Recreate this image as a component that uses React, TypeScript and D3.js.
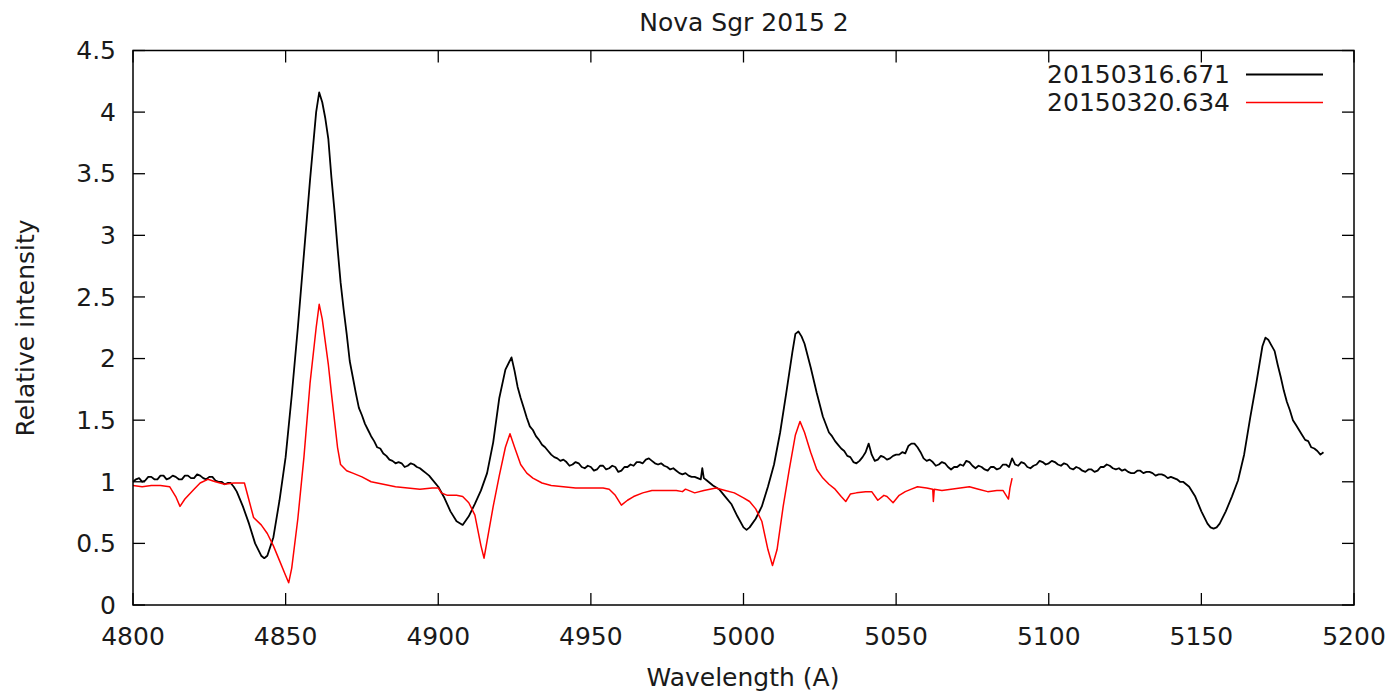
import React from "react";
import * as d3 from "d3";

const title = "Nova Sgr 2015 2";
const xLabel = "Wavelength (A)";
const yLabel = "Relative intensity";
const xTicks = [4800, 4850, 4900, 4950, 5000, 5050, 5100, 5150, 5200];
const yTicks = [0, 0.5, 1, 1.5, 2, 2.5, 3, 3.5, 4, 4.5];
const seriesNames = ["20150316.671", "20150320.634"];
const seriesColors = ["#000000", "#ff0000"];

// [wavelength, relative intensity]
const spec0316: [number, number][] = [
  [4800, 1.0], [4801, 1.02], [4802, 1.03], [4803, 1.0], [4804, 1.01], [4805, 1.04], [4806, 1.04], [4807, 1.02],
  [4808, 1.02], [4809, 1.05], [4810, 1.05], [4811, 1.02], [4812, 1.03], [4813, 1.05], [4814, 1.04], [4815, 1.02],
  [4816, 1.02], [4817, 1.05], [4818, 1.05], [4819, 1.03], [4820, 1.03], [4821, 1.06], [4822, 1.05], [4823, 1.03],
  [4824, 1.02], [4825, 1.04], [4826, 1.04], [4827, 1.01], [4828, 1.0], [4829, 1.0], [4830, 0.98], [4831, 0.99],
  [4832, 0.99], [4833, 0.96], [4834, 0.92], [4836, 0.8], [4838, 0.66], [4840, 0.5], [4842, 0.4], [4843, 0.38],
  [4844, 0.4], [4846, 0.55], [4848, 0.85], [4850, 1.2], [4852, 1.7], [4854, 2.25], [4856, 2.85], [4858, 3.45],
  [4860, 4.0], [4861, 4.16], [4862, 4.08], [4863, 3.95], [4864, 3.78], [4865, 3.47], [4866, 3.2], [4867, 2.9],
  [4868, 2.62], [4869, 2.4], [4870, 2.2], [4871, 1.98], [4872, 1.85], [4873, 1.72], [4874, 1.6], [4875, 1.54],
  [4876, 1.47], [4877, 1.42], [4878, 1.37], [4879, 1.33], [4880, 1.28], [4881, 1.27], [4882, 1.23],
  [4883, 1.21], [4884, 1.18], [4885, 1.17], [4886, 1.15], [4887, 1.16], [4888, 1.15], [4889, 1.12], [4890, 1.13],
  [4891, 1.15], [4892, 1.14], [4893, 1.12], [4894, 1.11], [4895, 1.09], [4896, 1.07], [4897, 1.05], [4898, 1.02],
  [4900, 0.96], [4902, 0.87], [4904, 0.76], [4906, 0.68], [4908, 0.65], [4910, 0.72], [4912, 0.82], [4914, 0.93],
  [4916, 1.07], [4918, 1.32], [4920, 1.68], [4922, 1.91], [4924, 2.01], [4925, 1.9], [4926, 1.77], [4927, 1.68],
  [4928, 1.6], [4929, 1.52], [4930, 1.45],
  [4931, 1.42], [4932, 1.37], [4933, 1.34], [4934, 1.3], [4935, 1.28], [4936, 1.25], [4937, 1.22], [4938, 1.2],
  [4939, 1.19], [4940, 1.17], [4941, 1.18], [4942, 1.16], [4943, 1.13], [4944, 1.14], [4945, 1.16], [4946, 1.15],
  [4947, 1.12], [4948, 1.11], [4949, 1.13], [4950, 1.12], [4951, 1.09], [4952, 1.1], [4953, 1.13], [4954, 1.13],
  [4955, 1.1], [4956, 1.11], [4957, 1.13], [4958, 1.12], [4959, 1.08], [4960, 1.09], [4961, 1.12], [4962, 1.12],
  [4963, 1.14], [4964, 1.13], [4965, 1.16], [4966, 1.16], [4967, 1.15], [4968, 1.18], [4969, 1.19], [4970, 1.17],
  [4971, 1.15], [4972, 1.14], [4973, 1.15], [4974, 1.13], [4975, 1.12], [4976, 1.1], [4977, 1.11], [4978, 1.09],
  [4979, 1.07], [4980, 1.06], [4981, 1.07], [4982, 1.05], [4983, 1.04], [4984, 1.04], [4985, 1.03], [4986, 1.02],
  [4986.5, 1.11], [4987, 1.03], [4988, 1.01], [4990, 0.97], [4992, 0.94], [4994, 0.88], [4996, 0.82], [4998, 0.72],
  [5000, 0.63], [5001, 0.61], [5002, 0.63], [5004, 0.7], [5006, 0.8], [5008, 0.96], [5010, 1.14], [5012, 1.4],
  [5014, 1.72], [5016, 2.05], [5017, 2.2], [5018, 2.22], [5019, 2.18], [5020, 2.12], [5022, 1.93], [5024, 1.72],
  [5026, 1.53], [5028, 1.4], [5029, 1.37], [5030, 1.33], [5031, 1.3], [5032, 1.27], [5033, 1.25], [5034, 1.21],
  [5035, 1.2], [5036, 1.16], [5037, 1.15], [5038, 1.17], [5039, 1.2], [5040, 1.24], [5041, 1.31], [5042, 1.22],
  [5043, 1.17], [5044, 1.18], [5045, 1.21], [5046, 1.2], [5047, 1.18], [5048, 1.19], [5049, 1.21], [5050, 1.22],
  [5051, 1.22], [5052, 1.24], [5053, 1.23], [5054, 1.29], [5055, 1.31], [5056, 1.31], [5057, 1.28], [5058, 1.24],
  [5059, 1.19], [5060, 1.17], [5061, 1.18], [5062, 1.16], [5063, 1.13], [5064, 1.14], [5065, 1.16], [5066, 1.15],
  [5067, 1.12], [5068, 1.1], [5069, 1.12], [5070, 1.12], [5071, 1.14], [5072, 1.13], [5073, 1.17], [5074, 1.16],
  [5075, 1.13], [5076, 1.11], [5077, 1.13], [5078, 1.12], [5079, 1.1], [5080, 1.09], [5081, 1.12], [5082, 1.12],
  [5083, 1.1], [5084, 1.11], [5085, 1.14], [5086, 1.14], [5087, 1.12], [5088, 1.19], [5089, 1.14], [5090, 1.13],
  [5091, 1.16], [5092, 1.15], [5093, 1.12], [5094, 1.11], [5095, 1.13], [5096, 1.14], [5097, 1.17], [5098, 1.16],
  [5099, 1.14], [5100, 1.15], [5101, 1.17], [5102, 1.16], [5103, 1.14], [5104, 1.13], [5105, 1.15], [5106, 1.14],
  [5107, 1.11], [5108, 1.1], [5109, 1.12], [5110, 1.11], [5111, 1.09], [5112, 1.08], [5113, 1.1], [5114, 1.1],
  [5115, 1.08], [5116, 1.09], [5117, 1.12], [5118, 1.12], [5119, 1.14], [5120, 1.13], [5121, 1.11], [5122, 1.1],
  [5123, 1.11], [5124, 1.09], [5125, 1.1], [5126, 1.08], [5127, 1.07], [5128, 1.07], [5129, 1.09], [5130, 1.09],
  [5131, 1.07], [5132, 1.08], [5133, 1.08], [5134, 1.07], [5135, 1.05], [5136, 1.06], [5137, 1.06], [5138, 1.05],
  [5139, 1.03], [5140, 1.04], [5141, 1.03], [5142, 1.02], [5143, 1.0], [5144, 1.0], [5145, 0.98], [5146, 0.96],
  [5148, 0.88], [5150, 0.76], [5152, 0.66], [5153, 0.63], [5154, 0.62], [5155, 0.63], [5156, 0.66], [5158, 0.76],
  [5160, 0.88], [5162, 1.01], [5164, 1.22], [5166, 1.52], [5168, 1.8], [5170, 2.1], [5171, 2.17], [5172, 2.15],
  [5174, 2.06], [5175, 1.95], [5176, 1.85], [5177, 1.74], [5178, 1.65], [5179, 1.58], [5180, 1.5], [5181, 1.46],
  [5182, 1.42], [5183, 1.38], [5184, 1.34], [5185, 1.33], [5186, 1.28], [5187, 1.27], [5188, 1.25], [5189, 1.22],
  [5190, 1.24],
];

const spec0320: [number, number][] = [
  [4800, 0.97], [4803, 0.96], [4806, 0.97], [4809, 0.97], [4812, 0.96], [4814, 0.88], [4815.4, 0.8], [4817, 0.86],
  [4820, 0.94], [4822, 0.99], [4824.5, 1.02], [4827, 1.0], [4830, 0.98], [4833, 0.99], [4836.5, 0.99], [4838, 0.85],
  [4839.5, 0.71], [4842, 0.65], [4844, 0.58], [4846, 0.48], [4848, 0.36], [4850, 0.24], [4851, 0.18], [4852, 0.3],
  [4854, 0.7], [4856, 1.2], [4858, 1.8], [4860, 2.25], [4861, 2.44], [4862, 2.32], [4864, 1.95], [4865, 1.72],
  [4866, 1.5], [4867, 1.28], [4868, 1.14], [4870, 1.09], [4872, 1.07], [4875, 1.04], [4878, 1.0], [4882, 0.98], [4886, 0.96],
  [4890, 0.95], [4894, 0.94], [4898, 0.95], [4900, 0.95], [4901, 0.91], [4903, 0.89], [4906, 0.89], [4908, 0.88],
  [4910, 0.83], [4912, 0.73], [4914, 0.48], [4915, 0.38], [4916, 0.52], [4918, 0.8], [4920, 1.05], [4922, 1.28],
  [4923.5, 1.39], [4925, 1.28], [4927, 1.14], [4929, 1.07], [4931, 1.03], [4934, 0.99], [4937, 0.97], [4941, 0.96],
  [4945, 0.95], [4950, 0.95], [4954, 0.95], [4956, 0.94], [4958, 0.89], [4960, 0.81], [4962, 0.85], [4964, 0.88],
  [4967, 0.91], [4970, 0.93], [4974, 0.93], [4978, 0.93], [4980, 0.92], [4981, 0.94], [4984, 0.91], [4987, 0.93],
  [4991, 0.95], [4994, 0.93], [4997, 0.91], [5000, 0.87], [5002, 0.84], [5004, 0.78], [5006, 0.68], [5008, 0.45],
  [5009.5, 0.32], [5011, 0.45], [5013, 0.8], [5015, 1.1], [5017, 1.38], [5018.5, 1.49], [5020, 1.4], [5022, 1.24],
  [5024, 1.1], [5026, 1.03], [5028, 0.98], [5030, 0.94], [5032, 0.88], [5033.5, 0.84], [5035, 0.9], [5037, 0.91],
  [5040, 0.92], [5042, 0.92], [5044, 0.85], [5046, 0.89], [5047, 0.88], [5049, 0.83], [5051, 0.89], [5053, 0.92],
  [5055, 0.94], [5057, 0.96], [5060, 0.95], [5062, 0.94], [5062.2, 0.84], [5062.5, 0.94], [5065, 0.93], [5068, 0.94],
  [5071, 0.95], [5074, 0.96], [5077, 0.94], [5080, 0.92], [5083, 0.93], [5085, 0.93], [5086.8, 0.86], [5087.3, 0.95],
  [5088, 1.03],
];

const W = 1392;
const H = 692;
const M = { left: 133, right: 1354, top: 50.5, bottom: 605 };
const FONT = "'DejaVu Sans', Verdana, sans-serif";
const FS = 25;
const TICK = 12;
const TEXT = "#1a1a1a";

export default function App() {
  const x = d3.scaleLinear().domain([4800, 5200]).range([M.left, M.right]);
  const y = d3.scaleLinear().domain([0, 4.5]).range([M.bottom, M.top]);
  const line = d3
    .line<[number, number]>()
    .x((d) => x(d[0]))
    .y((d) => y(d[1]));
  const series = [spec0316, spec0320];
  const widths = [1.8, 1.5];

  return (
    <svg
      width={W}
      height={H}
      style={{ position: "absolute", left: 0, top: 0, background: "#fff" }}
      fontFamily={FONT}
    >
      <rect x={0} y={0} width={W} height={H} fill="#fff" />
      {xTicks.map((t) => (
        <g key={"xt" + t}>
          <line x1={x(t)} x2={x(t)} y1={M.bottom} y2={M.bottom - TICK} stroke="#000" strokeWidth={1.3} />
          <line x1={x(t)} x2={x(t)} y1={M.top} y2={M.top + TICK} stroke="#000" strokeWidth={1.3} />
          <text x={x(t)} y={645} textAnchor="middle" fontSize={FS} fill={TEXT}>
            {t}
          </text>
        </g>
      ))}
      {yTicks.map((t) => (
        <g key={"yt" + t}>
          <line x1={M.left} x2={M.left + TICK} y1={y(t)} y2={y(t)} stroke="#000" strokeWidth={1.3} />
          <line x1={M.right} x2={M.right - TICK} y1={y(t)} y2={y(t)} stroke="#000" strokeWidth={1.3} />
          <text x={116} y={y(t)} dy="0.35em" textAnchor="end" fontSize={FS} fill={TEXT}>
            {String(t)}
          </text>
        </g>
      ))}
      {series.map((s, i) => (
        <path key={"s" + i} d={line(s) || ""} fill="none" stroke={seriesColors[i]} strokeWidth={widths[i]} strokeLinejoin="round" />
      ))}
      <rect
        x={M.left}
        y={M.top}
        width={M.right - M.left}
        height={M.bottom - M.top}
        fill="none"
        stroke="#000"
        strokeWidth={1.5}
      />
      {seriesNames.map((n, i) => (
        <g key={"lg" + i}>
          <text x={1230} y={74.5 + i * 28} dy="0.35em" textAnchor="end" fontSize={FS} fill={TEXT}>
            {n}
          </text>
          <line x1={1246} x2={1323} y1={74.5 + i * 28} y2={74.5 + i * 28} stroke={seriesColors[i]} strokeWidth={widths[i]} />
        </g>
      ))}
      <text x={744} y={22} dy="0.35em" textAnchor="middle" fontSize={FS} fill={TEXT}>
        {title}
      </text>
      <text x={743} y={677} dy="0.35em" textAnchor="middle" fontSize={FS} fill={TEXT}>
        {xLabel}
      </text>
      <text
        transform={`translate(25,328) rotate(-90)`}
        dy="0.35em"
        textAnchor="middle"
        fontSize={FS}
        fill={TEXT}
      >
        {yLabel}
      </text>
    </svg>
  );
}
